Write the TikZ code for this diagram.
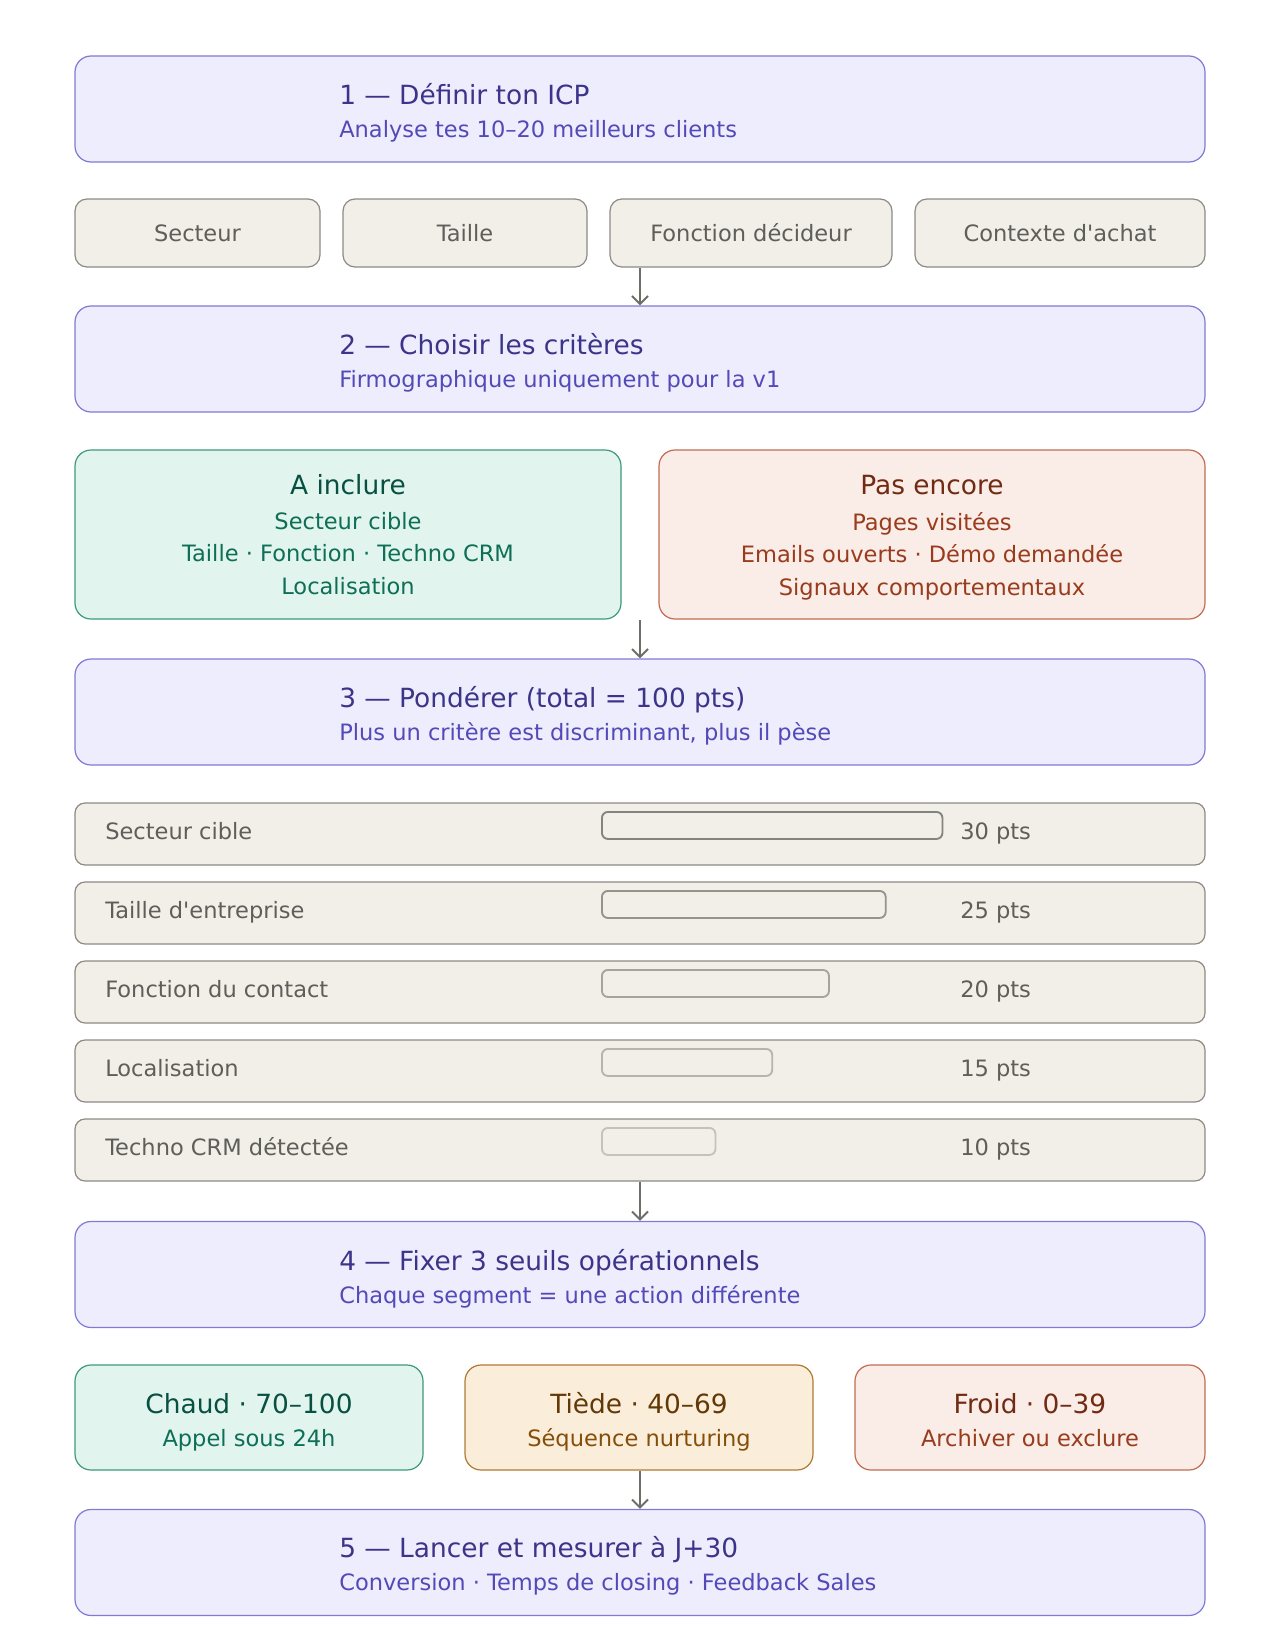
\documentclass[tikz,border=0pt]{standalone}
\usepackage{fontspec}
\setmainfont{DejaVu Sans}[Ligatures=TeXOff]
\usetikzlibrary{arrows.meta, positioning}

\definecolor{stepfill}{HTML}{EEEDFE}
\definecolor{stepline}{HTML}{8079D6}
\definecolor{stephead}{HTML}{3C3489}
\definecolor{stepsub}{HTML}{534AB7}
\definecolor{grayfill}{HTML}{F1EFE8}
\definecolor{grayline}{HTML}{8C8A84}
\definecolor{graytext}{HTML}{5F5E5A}
\definecolor{greenfill}{HTML}{E1F5EE}
\definecolor{greenline}{HTML}{3D9A7B}
\definecolor{greenhead}{HTML}{085041}
\definecolor{greentext}{HTML}{0F6E56}
\definecolor{coralfill}{HTML}{FAECE7}
\definecolor{coralline}{HTML}{C46B52}
\definecolor{coralhead}{HTML}{712B13}
\definecolor{coraltext}{HTML}{993C1D}
\definecolor{amberfill}{HTML}{FAEEDA}
\definecolor{amberline}{HTML}{B07A33}
\definecolor{amberhead}{HTML}{633806}
\definecolor{ambertext}{HTML}{854F0B}
\definecolor{arrowgray}{HTML}{6E6D68}
\definecolor{bardark}{HTML}{85837D}

\newcommand\headfont{\fontsize{19.8}{24}\selectfont}
\newcommand\bodyfont{\fontsize{16.9}{24.3}\selectfont}

\tikzset{
  wd/.style={minimum width=#1*0.75pt},
  ht/.style={minimum height=#1*0.75pt},
  box/.style={rounded corners=12pt, line width=0.9pt, inner sep=0pt},
  stepbox/.style={box, draw=stepline, fill=stepfill, wd=1130, ht=106},
  stephd/.style={anchor=mid west, inner sep=0pt, font=\headfont, text=stephead},
  stepsb/.style={anchor=mid west, inner sep=0pt, font=\bodyfont, text=stepsub},
  tagbox/.style={box, rounded corners=9pt, draw=grayline, fill=grayfill, ht=68, font=\bodyfont, text=graytext},
  rowbox/.style={box, rounded corners=7.5pt, draw=grayline, fill=grayfill, wd=1130, ht=62},
  rowtext/.style={inner sep=0pt, font=\bodyfont, text=graytext},
  barbox/.style={rounded corners=4.5pt, line width=1.4pt, inner sep=0pt, ht=27, anchor=north west},
  cardhd/.style={inner sep=0pt, font=\headfont},
  cardbd/.style={inner sep=0pt, font=\bodyfont, align=center},
  segbd/.style={inner sep=0pt, font=\bodyfont, anchor=mid},
  flow/.style={draw=arrowgray, line width=1.5pt, -{Straight Barb[length=6pt, width=12pt]}},
}

\begin{document}
\begin{tikzpicture}[x=0.75pt, y=-0.75pt]
\useasboundingbox (0,0) rectangle (1280,1634);

%step 1
\node[stepbox] (step1) at (640,109) {};
\node[stephd] (step1hd) at (339,101) {1 — Définir ton ICP};
\node[stepsb] (step1sb) at (339,133.5) {Analyse tes 10–20 meilleurs clients};

%icp tags
\node[tagbox, wd=245] (secteur) at (197.5,233) {Secteur};
\node[tagbox, wd=244] (taille) at (465,233) {Taille};
\node[tagbox, wd=282] (fonction) at (751,233) {Fonction décideur};
\node[tagbox, wd=290] (contexte) at (1060,233) {Contexte d'achat};

%step 2
\node[stepbox] (step2) at (640,359) {};
\node[stephd] (step2hd) at (339,351) {2 — Choisir les critères};
\node[stepsb] (step2sb) at (339,383.5) {Firmographique uniquement pour la v1};
\draw[flow] (step2.north |- fonction.south) -- (step2.north);

%include / not yet
\node[box, draw=greenline, fill=greenfill, wd=546, ht=169] (inclure) at (348,534.5) {};
\node[cardhd, text=greenhead] (inclurehd) at (348,485) {A inclure};
\node[cardbd, text=greentext] (inclurebd) at (348,553.5)
  {Secteur cible\\Taille · Fonction · Techno CRM\\Localisation};
\node[box, draw=coralline, fill=coralfill, wd=546, ht=169] (encore) at (932,534.5) {};
\node[cardhd, text=coralhead] (encorehd) at (932,485) {Pas encore};
\node[cardbd, text=coraltext] (encorebd) at (932,556)
  {Pages visitées\\Emails ouverts · Démo demandée\\Signaux comportementaux};

%step 3
\node[stepbox] (step3) at (640,712) {};
\node[stephd] (step3hd) at (339,704) {3 — Pondérer (total = 100 pts)};
\node[stepsb] (step3sb) at (339,736.5) {Plus un critère est discriminant, plus il pèse};
\draw[flow] (step3.north |- inclure.south) -- (step3.north);

%weights
\foreach \lbl/\pts/\tone [count=\i from 0] in {Secteur cible/30/100, Taille d'entreprise/25/85,
    Fonction du contact/20/70, Localisation/15/55, Techno CRM détectée/10/42}{
  \node[rowbox] (row\i) at (640,834+79*\i) {};
  \node[rowtext, anchor=mid west] (lbl\i) at (105,836+79*\i) {\lbl};
  \node[barbox, draw=bardark!\tone!grayfill, wd=11.35*\pts] (bar\i) at (601,811+79*\i) {};
  \node[rowtext, anchor=mid west] (pts\i) at (960,836+79*\i) {\pts\ pts};
}

%step 4
\node[stepbox] (step4) at (640,1274.5) {};
\node[stephd] (step4hd) at (339,1267) {4 — Fixer 3 seuils opérationnels};
\node[stepsb] (step4sb) at (339,1299.5) {Chaque segment = une action différente};
\draw[flow] (step4.north |- row4.south) -- (step4.north);

%segments
\node[box, draw=greenline, fill=greenfill, wd=348, ht=105] (chaud) at (249,1417.5) {};
\node[cardhd, anchor=mid, text=greenhead] (chaudhd) at (249,1410) {Chaud · 70–100};
\node[segbd, text=greentext] (chaudbd) at (249,1442.5) {Appel sous 24h};
\node[box, draw=amberline, fill=amberfill, wd=348, ht=105] (tiede) at (639,1417.5) {};
\node[cardhd, anchor=mid, text=amberhead] (tiedehd) at (639,1410) {Tiède · 40–69};
\node[segbd, text=ambertext] (tiedebd) at (639,1442.5) {Séquence nurturing};
\node[box, draw=coralline, fill=coralfill, wd=350, ht=105] (froid) at (1030,1417.5) {};
\node[cardhd, anchor=mid, text=coralhead] (froidhd) at (1030,1410) {Froid · 0–39};
\node[segbd, text=coraltext] (froidbd) at (1030,1442.5) {Archiver ou exclure};

%step 5
\node[stepbox] (step5) at (640,1562.5) {};
\node[stephd] (step5hd) at (339,1554) {5 — Lancer et mesurer à J+30};
\node[stepsb] (step5sb) at (339,1586.5) {Conversion · Temps de closing · Feedback Sales};
\draw[flow] (step5.north |- tiede.south) -- (step5.north);
\end{tikzpicture}
\end{document}
